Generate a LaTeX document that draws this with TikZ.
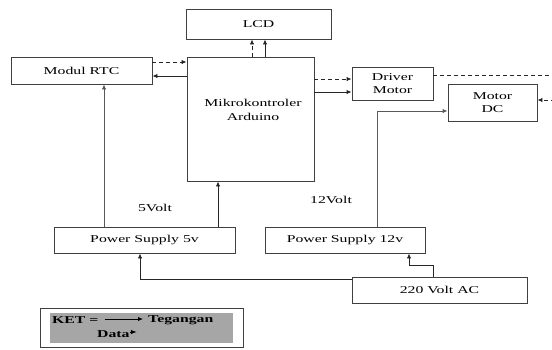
\documentclass[tikz,border=0pt]{standalone}
\usepackage{fontspec}
\setmainfont[FakeStretch=1.5]{Liberation Serif}
\usetikzlibrary{arrows.meta}

\begin{document}
\begin{tikzpicture}[x=1pt,y=-1pt,
    font=\fontsize{10.5}{13.5}\selectfont,
    blok/.style={draw=black!75, line width=0.9pt, fill=white, inner sep=0pt, align=center},
    tegangan/.style={draw=black!85, line width=0.9pt, -{Latex[length=5pt,width=4.5pt]}},
    abu/.style={tegangan, draw=black!65},
    data/.style={tegangan, dash pattern=on 4pt off 3pt}]
    \useasboundingbox (0,0) rectangle (552,349);
    % blok-blok
    \node[blok, minimum width=145pt, minimum height=30pt] (lcd) at (258.5,24) {LCD};
    \node[blok, minimum width=141pt, minimum height=27pt] (rtc) at (81.5,70.5) {Modul RTC};
    \node[blok, minimum width=127pt, minimum height=124pt] (mcu) at (250.5,119) {};
    \node[align=center] (mcutxt) at (253,110) {Mikrokontroler\\Arduino};
    \node[blok, minimum width=81pt, minimum height=33pt] (drv) at (392.5,83.5) {Driver\\Motor};
    \node[blok, minimum width=89pt, minimum height=37pt] (motor) at (492.5,102.5) {Motor\\DC};
    \node[blok, minimum width=181pt, minimum height=26pt] (ps5) at (144.5,240) {Power Supply 5v};
    \node[blok, minimum width=160pt, minimum height=26pt] (ps12) at (345,240) {Power Supply 12v};
    \node[blok, minimum width=175pt, minimum height=26pt] (ac) at (439.5,290) {220 Volt AC};
    \coordinate (tepi) at (562,0);
    % panah data & tegangan
    \draw[data] ([yshift=8.5pt]rtc.east) -- ([yshift=8.5pt]rtc.east -| mcu.west);
    \draw[tegangan] ([yshift=-5.5pt]rtc.east -| mcu.west) -- ([yshift=-5.5pt]rtc.east);
    \draw[data] ([xshift=-6.5pt]lcd.south |- mcu.north) -- ([xshift=-6.5pt]lcd.south);
    \draw[tegangan] ([xshift=6.5pt]lcd.south |- mcu.north) -- ([xshift=6.5pt]lcd.south);
    \draw[data] ([yshift=4.5pt]drv.west -| mcu.east) -- ([yshift=4.5pt]drv.west);
    \draw[tegangan] ([yshift=-8.5pt]drv.west -| mcu.east) -- ([yshift=-8.5pt]drv.west);
    \draw[data] ([yshift=8.5pt]drv.east) -- ([yshift=8.5pt]drv.east -| tepi) |- ([yshift=2.5pt]motor.east);
    \draw[abu] ([xshift=22.5pt]rtc.south |- ps5.north) -- ([xshift=22.5pt]rtc.south);
    \draw[tegangan] ([xshift=-32.5pt]mcu.south |- ps5.north) -- ([xshift=-32.5pt]mcu.south);
    \draw[abu] ([xshift=32pt]ps12.north) |- ([yshift=-8.5pt]motor.west);
    \draw[tegangan] ([xshift=-6.5pt]ac.north) -- ++(0,-11) -| ([xshift=64pt]ps12.south);
    \draw[tegangan] ([yshift=11pt]ac.west) -| ([xshift=-4.5pt]ps5.south);
    \node (v5) at (155,208) {5Volt};
    \node (v12) at (331,200) {12Volt};
    % keterangan
    \node[blok, minimum width=203pt, minimum height=39pt] (ket) at (141.5,327.5) {};
    \node[fill=black!35, minimum width=183pt, minimum height=30pt, inner sep=0pt] (ketbg) at (141.5,328) {};
    \node[anchor=west, inner sep=0pt, font=\fontsize{10.5}{12}\selectfont\bfseries] (ketlbl) at (52,320) {KET =};
    \node[anchor=west, inner sep=0pt, font=\fontsize{10.5}{12}\selectfont\bfseries] (teg) at (148,320) {Tegangan};
    \node[anchor=west, inner sep=0pt, font=\fontsize{10.5}{12}\selectfont\bfseries] (dat) at (97,334) {Data};
    \draw[tegangan, draw=black] ([xshift=6pt,yshift=1pt]ketlbl.east) -- ([xshift=-5pt,yshift=1pt]teg.west);
    \draw[tegangan, draw=black, -{Latex[length=6pt,width=4.5pt]}] ([yshift=2pt]dat.east) -- ++(7,0);
\end{tikzpicture}
\end{document}
